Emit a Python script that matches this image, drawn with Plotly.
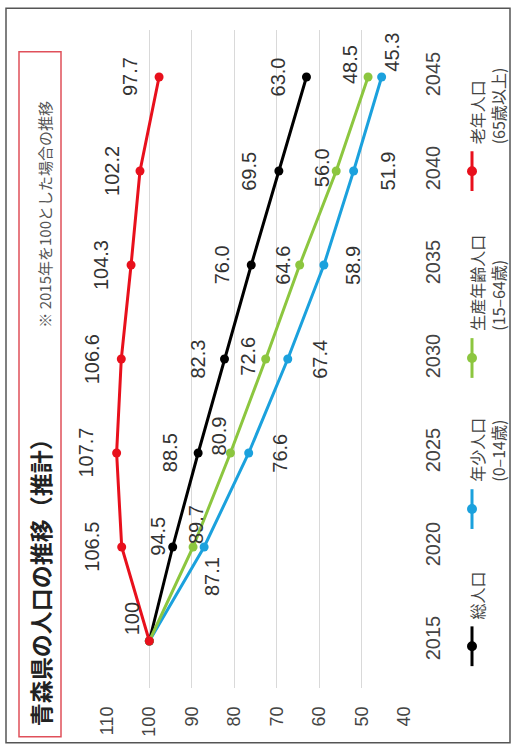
import plotly.graph_objects as go

# ---- data ----
years = [2015, 2020, 2025, 2030, 2035, 2040, 2045]
total = [100, 94.5, 88.5, 82.3, 76.0, 69.5, 63.0]          # 総人口
youth = [100, 87.1, 76.6, 67.4, 58.9, 51.9, 45.3]          # 年少人口
working = [100, 89.7, 80.9, 72.6, 64.6, 56.0, 48.5]        # 生産年齢人口
elderly = [100, 106.5, 107.7, 106.6, 104.3, 102.2, 97.7]   # 老年人口
value_ticks = [110, 100, 90, 80, 70, 60, 50, 40]

series_names = ["総人口", "年少人口", "生産年齢人口", "老年人口"]
series_sub = ["", "(0–14歳)", "(15–64歳)", "(65歳以上)"]
series_vals = [total, youth, working, elderly]

title_text = "青森県の人口の推移（推計）"
note_text = "※ 2015年を100とした場合の推移"

# ---- styles / layout ----
colors = ["#000000", "#1ba1dd", "#8cc63f", "#e8101c"]
# label offsets (pixels) per point, None = no label
label_offsets = [
    [None, (-15, 11), (-28, 0), (-27, 0), (-29, 0), (-30, 0), (-28, 0)],
    [None, (8, -30), (31, 0), (32, 0), (29, 0), (34, 0), (10, 25)],
    [None, (3, 22), (-11, 17), (-18, 3), (-17, 0), (-14, 3), (-18, 12)],
    [(-17, 22), (-30, 0), (-31, 0), (-29, 0), (-30, 0), (-28, 0), (-29, 0)],
]
legend_marker_y = [650, 512, 360, 172]

W, H = 514, 749
L, R, T, B = 106, 109, 30, 57
PW, PH = W - L - R, H - T - B


def px(x):
    return (x - L) / PW


def py(y):
    return (H - B - y) / PH


LABEL_FONT = "Liberation Sans, Arial, sans-serif"
CJK_FONT = "Noto Sans CJK JP, sans-serif"

fig = go.Figure()
for name, vals, col in zip(series_names, series_vals, colors):
    fig.add_trace(go.Scatter(
        x=vals, y=years, mode="lines+markers", name=name,
        line=dict(color=col, width=3),
        marker=dict(color=col, size=9),
        showlegend=False, cliponaxis=False,
    ))

annotations = []
for vals, offs in zip(series_vals, label_offsets):
    for v, yr, off in zip(vals, years, offs):
        if off is None:
            continue
        txt = "100" if yr == 2015 else f"{v:.1f}"
        annotations.append(dict(
            x=v, y=yr, xref="x", yref="y", text=txt, showarrow=False,
            textangle=-90, xshift=off[0], yshift=off[1],
            font=dict(family=LABEL_FONT, size=20, color="#333333"),
        ))

# title and note
annotations.append(dict(
    x=px(40), y=py(733), xref="paper", yref="paper", text="<b>" + title_text + "</b>",
    showarrow=False, textangle=-90, xanchor="center", yanchor="bottom",
    font=dict(family=CJK_FONT, size=23, color="#222222"),
))
annotations.append(dict(
    x=px(45), y=py(332), xref="paper", yref="paper", text=note_text,
    showarrow=False, textangle=-90, xanchor="center", yanchor="bottom",
    font=dict(family=CJK_FONT, size=15, color="#555555"),
))

shapes = [
    dict(type="rect", xref="paper", yref="paper", x0=px(6), x1=px(510), y0=py(747), y1=py(8),
         line=dict(color="#555555", width=1.5), layer="below"),
    dict(type="rect", xref="paper", yref="paper", x0=px(19), x1=px(61), y0=py(741), y1=py(52),
         line=dict(color="#e0505a", width=1.5), layer="below"),
]

# legend (rotated, drawn manually)
for name, sub, col, my in zip(series_names, series_sub, colors, legend_marker_y):
    shapes.append(dict(type="line", xref="paper", yref="paper", x0=px(472), x1=px(472),
                       y0=py(my + 20), y1=py(my - 20), line=dict(color=col, width=3)))
    shapes.append(dict(type="circle", xref="paper", yref="paper", x0=px(467), x1=px(477),
                       y0=py(my + 5), y1=py(my - 5), fillcolor=col, line=dict(width=0)))
    txt = name if not sub else name + "<br>" + sub
    annotations.append(dict(
        x=px(463), y=py(my - 25), xref="paper", yref="paper", text=txt, align="left",
        showarrow=False, textangle=-90, xanchor="left", yanchor="bottom",
        font=dict(family=CJK_FONT, size=16, color="#444444"),
    ))

fig.update_layout(
    width=W, height=H,
    margin=dict(l=L, r=R, t=T, b=B),
    paper_bgcolor="white", plot_bgcolor="white",
    annotations=annotations, shapes=shapes,
    xaxis=dict(range=[110.2, 39.8], tickvals=value_ticks, tickangle=-90,
               showgrid=True, gridcolor="#d9d9d9", gridwidth=1, zeroline=False,
               showline=False, ticks="", ticklabelstandoff=14,
               tickfont=dict(family=LABEL_FONT, size=18, color="#444444")),
    yaxis=dict(range=[2012.5, 2047.5], tickvals=years, side="right", tickangle=-90,
               showgrid=False, zeroline=False, showline=False, ticks="",
               ticklabelstandoff=14,
               tickfont=dict(family=LABEL_FONT, size=20, color="#444444")),
)

fig.write_html("out.html")
